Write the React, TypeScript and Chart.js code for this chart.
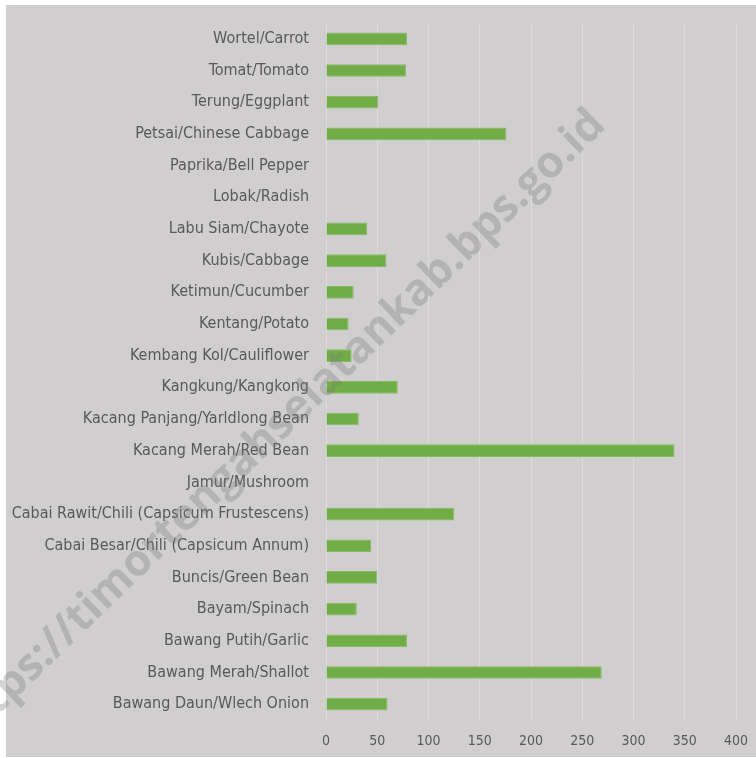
import React, { useEffect, useRef } from "react";
import { Chart, registerables } from "chart.js";

Chart.register(...registerables);

const categories: string[] = [
  "Wortel/Carrot",
  "Tomat/Tomato",
  "Terung/Eggplant",
  "Petsai/Chinese Cabbage",
  "Paprika/Bell Pepper",
  "Lobak/Radish",
  "Labu Siam/Chayote",
  "Kubis/Cabbage",
  "Ketimun/Cucumber",
  "Kentang/Potato",
  "Kembang Kol/Cauliflower",
  "Kangkung/Kangkong",
  "Kacang Panjang/Yarldlong Bean",
  "Kacang Merah/Red Bean",
  "Jamur/Mushroom",
  "Cabai Rawit/Chili (Capsicum Frustescens)",
  "Cabai Besar/Chili (Capsicum Annum)",
  "Buncis/Green Bean",
  "Bayam/Spinach",
  "Bawang Putih/Garlic",
  "Bawang Merah/Shallot",
  "Bawang Daun/Wlech Onion",
];

const values: number[] = [
  79, 78, 51, 176, 0, 0, 40, 59, 27, 22, 25, 70, 32, 340, 0, 125, 44, 50, 30, 79, 269, 60,
];

const xTicks: number[] = [0, 50, 100, 150, 200, 250, 300, 350, 400];

const watermarkText = "https://timortengahselatankab.bps.go.id";

const LABEL_FONT = "'DejaVu Sans Condensed', 'DejaVu Sans', sans-serif";

export default function App() {
  const canvasRef = useRef<HTMLCanvasElement | null>(null);

  useEffect(() => {
    const canvas = canvasRef.current;
    if (!canvas) return;

    const backgroundPlugin = {
      id: "bgPlugin",
      beforeDraw(chart: any) {
        const ctx = chart.ctx;
        ctx.save();
        ctx.fillStyle = "#ffffff";
        ctx.fillRect(0, 0, chart.width, chart.height);
        ctx.fillStyle = "#d0cece";
        ctx.fillRect(6, 5, chart.width - 6, chart.height - 6);
        ctx.restore();
      },
    };

    const watermarkPlugin = {
      id: "watermark",
      afterDraw(chart: any) {
        const ctx = chart.ctx;
        ctx.save();
        ctx.translate(607, 127);
        ctx.rotate((-44 * Math.PI) / 180);
        ctx.font = "bold 44px 'Open Sans', 'DejaVu Sans', sans-serif";
        ctx.textAlign = "right";
        ctx.textBaseline = "alphabetic";
        ctx.fillStyle = "rgba(120,120,120,0.32)";
        ctx.fillText(watermarkText, 0, 0);
        ctx.restore();
      },
    };

    const chart = new Chart(canvas, {
      type: "bar",
      data: {
        labels: categories,
        datasets: [
          {
            data: values,
            backgroundColor: "#70ad47",
            borderColor: "#86bb63",
            borderWidth: 1,
            barPercentage: 0.4,
            categoryPercentage: 1.0,
          },
        ],
      },
      options: {
        indexAxis: "y",
        responsive: false,
        animation: false,
        layout: { padding: { left: 6, top: 23, right: 20, bottom: 8 } },
        plugins: {
          legend: { display: false },
          tooltip: { enabled: false },
        },
        scales: {
          x: {
            type: "linear",
            min: 0,
            max: 400,
            afterBuildTicks(scale: any) {
              scale.ticks = xTicks.map((v) => ({ value: v }));
            },
            afterFit(scale: any) {
              scale.height = 30;
              scale.paddingLeft = 0;
              scale.paddingRight = 0;
            },
            ticks: {
              color: "#595959",
              font: { family: LABEL_FONT, size: 14 },
              padding: 13,
            },
            grid: { color: "#dcdbdb", lineWidth: 1, drawTicks: false },
            border: { display: false },
          },
          y: {
            type: "category",
            afterFit(scale: any) {
              scale.width = 320;
              scale.paddingTop = 0;
              scale.paddingBottom = 0;
            },
            ticks: {
              color: "#595959",
              font: { family: LABEL_FONT, size: 16 },
              padding: 17,
              autoSkip: false,
            },
            grid: { display: false, drawTicks: false },
            border: { display: false },
          },
        },
      },
      plugins: [backgroundPlugin, watermarkPlugin],
    });

    return () => {
      chart.destroy();
    };
  }, []);

  return (
    <div style={{ position: "absolute", left: 0, top: 0, width: 756, height: 758 }}>
      <canvas ref={canvasRef} width={756} height={758} style={{ display: "block" }} />
    </div>
  );
}
